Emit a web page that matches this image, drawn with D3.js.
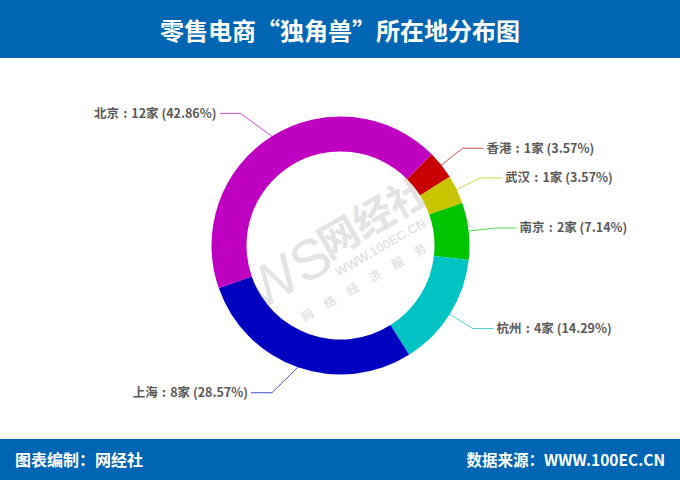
<!DOCTYPE html>
<html><head><meta charset="utf-8">
<script src="https://cdn.jsdelivr.net/npm/d3@7/dist/d3.min.js"></script>
<style>body{margin:0;background:#fff}svg{display:block}</style>
</head><body>
<svg id="c" width="680" height="480"></svg>
<script>
const categories = ["香港", "武汉", "南京", "杭州", "上海", "北京"];
const counts = [1, 1, 2, 4, 8, 12];
const percents = ["3.57%", "3.57%", "7.14%", "14.29%", "28.57%", "42.86%"];
const colors = ["#c80000", "#c8c400", "#00c400", "#00c4c4", "#0000c0", "#c000c0"];
const titleText = "零售电商“独角兽”所在地分布图";
const footerLeft = "图表编制：网经社";
const footerRight = "数据来源：WWW.100EC.CN";

const W = 680, H = 480;
const svg = d3.select("#c");
const font = "'Noto Sans CJK SC','Microsoft YaHei',sans-serif";
const blue = "#0066b3";

svg.append("rect").attr("x",0).attr("y",0).attr("width",W).attr("height",58).attr("fill",blue);
svg.append("text").attr("x",W/2).attr("y",40).attr("text-anchor","middle")
  .attr("font-family",font).attr("font-weight","bold").attr("font-size",24).attr("fill","#fff").text(titleText);

svg.append("rect").attr("x",0).attr("y",439).attr("width",W).attr("height",41).attr("fill",blue);
svg.append("text").attr("x",15).attr("y",466).attr("font-family",font).attr("font-weight","bold")
  .attr("font-size",16).attr("fill","#fff").text(footerLeft);
svg.append("text").attr("x",665).attr("y",466).attr("text-anchor","end").attr("font-family",font).attr("font-weight","bold")
  .attr("font-size",15.5).attr("fill","#fff").text(footerRight);

const cx = 340.5, cy = 245.5, rIn = 94, rOut = 129;
const g = svg.append("g").attr("transform",`translate(${cx},${cy})`);

// watermark
const wm = g.append("g").attr("transform","translate(-5,10) rotate(-30)").attr("fill","#c8c8c8").attr("opacity",0.5)
  .attr("font-family",font).attr("font-weight","bold");
wm.append("text").attr("x",-95).attr("y",10).attr("font-size",56).attr("font-family","'Liberation Sans',sans-serif").attr("font-weight","normal").text("WS");
wm.append("text").attr("x",-8).attr("y",0).attr("font-size",40).text("网经社");
wm.append("text").attr("x",-8).attr("y",20).attr("font-size",13).attr("font-family","'Liberation Sans',sans-serif").text("WWW.100EC.CN");
wm.append("text").attr("x",-60).attr("y",42).attr("font-size",12).attr("letter-spacing",14).text("网络经济服务平台");

const pie = d3.pie().sort(null).value(d => d).startAngle(Math.PI/4).endAngle(Math.PI/4 + 2*Math.PI);
const arcs = pie(counts);
const arc = d3.arc().innerRadius(rIn).outerRadius(rOut);
g.selectAll("path.s").data(arcs).join("path").attr("class","s")
  .attr("d",arc).attr("fill",(d,i)=>colors[i]);

const pt = (a, r) => [Math.sin(a)*r, -Math.cos(a)*r];
arcs.forEach((d,i) => {
  const a = (d.startAngle + d.endAngle)/2;
  const right = Math.sin(a) >= 0;
  const p0 = pt(a, rOut);
  const p1 = pt(a, rOut + 27);
  if (!right) p1[0] -= 17;
  const p2 = [p1[0] + (right ? 21 : -21), p1[1]];
  g.append("polyline").attr("points",[p0,p1,p2].map(p=>p.join(",")).join(" "))
    .attr("fill","none").attr("stroke",colors[i]).attr("stroke-width",1).attr("opacity",0.7);
  g.append("text").attr("x",p2[0] + (right ? 3 : -3)).attr("y",p2[1]).attr("dy","0.35em")
    .attr("text-anchor",right ? "start" : "end")
    .attr("font-family",font).attr("font-weight","bold").attr("font-size",12.5).attr("fill","#5a5a5a")
    .text(`${categories[i]}\u2004:\u2004${counts[i]}家 (${percents[i]})`);
});
</script>
</body></html>
